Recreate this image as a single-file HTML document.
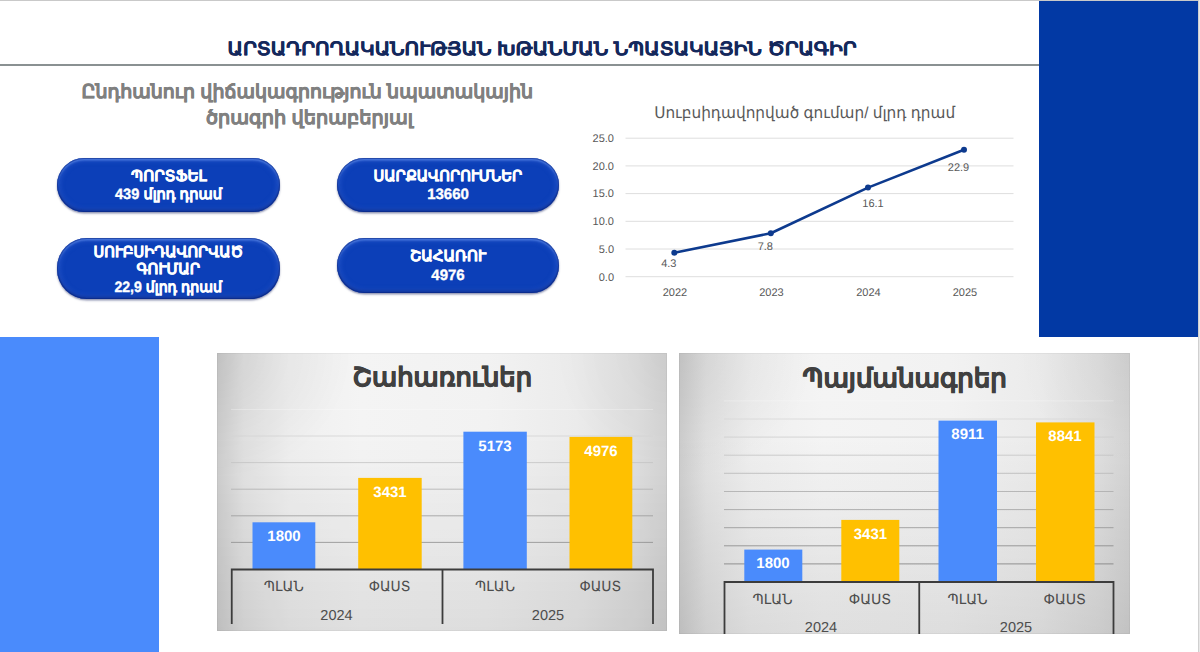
<!DOCTYPE html>
<html lang="hy">
<head>
<meta charset="utf-8">
<title>Արտադրողականության խթանման նպատակային ծրագիր</title>
<style>
*{box-sizing:border-box;margin:0;padding:0}
html,body{width:1200px;height:652px;overflow:hidden;background:#fff}
body{position:relative;font-family:"Liberation Sans",sans-serif;color:#595959}
.abs{position:absolute}
.topline{left:0;top:0;width:1200px;height:1px;background:#c9c9c9}
.rightline{left:1198px;top:0;width:2px;height:652px;background:linear-gradient(90deg,#d0d0d0 50%,#e8e8e8 50%)}
.darkrect{left:1039px;top:1px;width:159px;height:336px;background:#0239a4}
.lightrect{left:0;top:337px;width:159px;height:315px;background:#4a8bfc}
.titleline{left:0;top:64px;width:1039px;height:2px;background:#8a9192}
.btn{border-radius:30px;background:#0c3fb8;
 box-shadow:0 1.5px 2px rgba(30,40,100,.5), inset 0 0 0 1px rgba(6,34,125,.5), inset 0 2.5px 2px rgba(105,150,238,.55), inset 0 -2.5px 3px rgba(0,22,105,.45), inset 0 0 5px 2.5px rgba(62,108,218,.5)}
.panel{background:radial-gradient(ellipse 30% 45% at 0% 0%,rgba(0,0,0,.07),rgba(0,0,0,0) 100%),radial-gradient(ellipse 25% 40% at 100% 0%,rgba(0,0,0,.04),rgba(0,0,0,0) 100%),linear-gradient(180deg,rgba(0,0,0,0) 30%,rgba(0,0,0,.085) 100%),linear-gradient(90deg,#cfcfcf 0%,#e3e3e3 6%,#efefef 16%,#f4f4f4 32%,#f2f2f2 60%,#ebebeb 80%,#dfdfdf 93%,#d4d4d4 100%);box-shadow:inset 0 0 0 1px rgba(0,0,0,.04)}
svg{left:0;top:0}
svg text{font-family:"Liberation Sans",sans-serif;text-rendering:geometricPrecision}
.hy{paint-order:stroke fill}
</style>
</head>
<body>
<div class="abs topline"></div>
<div class="abs rightline"></div>
<div class="abs darkrect"></div>
<div class="abs lightrect"></div>
<div class="abs titleline"></div>

<div class="abs btn" style="left:57px;top:157.5px;width:222.5px;height:54px"></div>
<div class="abs btn" style="left:336.8px;top:157.5px;width:222px;height:54px"></div>
<div class="abs btn" style="left:57px;top:238.3px;width:223px;height:61.2px"></div>
<div class="abs btn" style="left:336.8px;top:238.3px;width:222px;height:54.5px"></div>

<div class="abs panel" style="left:217px;top:353px;width:450.4px;height:277.5px"></div>
<div class="abs panel" style="left:679.4px;top:353px;width:450.2px;height:281px"></div>

<svg class="abs" width="1200" height="652" viewBox="0 0 1200 652">
  <!-- headings -->
  <text class="hy" x="227.6" y="54.8" font-size="18.2" font-weight="bold" fill="#14285c" stroke="#14285c" stroke-width="0.3" textLength="629" lengthAdjust="spacingAndGlyphs">ԱՐՏԱԴՐՈՂԱԿԱՆՈՒԹՅԱՆ ԽԹԱՆՄԱՆ ՆՊԱՏԱԿԱՅԻՆ ԾՐԱԳԻՐ</text>
  <g font-size="19" font-weight="bold" fill="#808080" stroke="#808080" stroke-width="0.35">
    <text class="hy" x="81.6" y="97.8" textLength="451.4" lengthAdjust="spacingAndGlyphs">Ընդհանուր վիճակագրություն նպատակային</text>
    <text class="hy" x="206" y="123.6" textLength="207" lengthAdjust="spacingAndGlyphs">ծրագրի վերաբերյալ</text>
  </g>

  <!-- button labels -->
  <g font-size="15" font-weight="bold" fill="#fff" stroke="#fff" stroke-width="0.35">
    <text x="131" y="181.4" textLength="75.6" lengthAdjust="spacingAndGlyphs">ՊՈՐՏՖԵԼ</text>
    <text x="115" y="199.4" textLength="107" lengthAdjust="spacingAndGlyphs">439 մլրդ դրամ</text>
    <text x="373.5" y="181.4" textLength="148.6" lengthAdjust="spacingAndGlyphs">ՍԱՐՔԱՎՈՐՈՒՄՆԵՐ</text>
    <text x="448" y="199.4" text-anchor="middle">13660</text>
    <text x="93.6" y="256.5" textLength="149.4" lengthAdjust="spacingAndGlyphs">ՍՈՒԲՍԻԴԱՎՈՐՎԱԾ</text>
    <text x="136.4" y="273.6" textLength="63.6" lengthAdjust="spacingAndGlyphs">ԳՈՒՄԱՐ</text>
    <text x="114.4" y="291.6" textLength="107.6" lengthAdjust="spacingAndGlyphs">22,9 մլրդ դրամ</text>
    <text x="410" y="261.3" textLength="76" lengthAdjust="spacingAndGlyphs">ՇԱՀԱՌՈՒ</text>
    <text x="448" y="279.5" text-anchor="middle">4976</text>
  </g>

  <!-- line chart -->
  <text x="654.2" y="117.7" font-size="16" fill="#595959" textLength="301" lengthAdjust="spacingAndGlyphs">Սուբսիդավորված գումար/ մլրդ դրամ</text>
  <g stroke="#dedede" stroke-width="1">
    <line x1="625.5" x2="1013.5" y1="138.2" y2="138.2"/>
    <line x1="625.5" x2="1013.5" y1="165.9" y2="165.9"/>
    <line x1="625.5" x2="1013.5" y1="193.6" y2="193.6"/>
    <line x1="625.5" x2="1013.5" y1="221.3" y2="221.3"/>
    <line x1="625.5" x2="1013.5" y1="249" y2="249"/>
    <line x1="625.5" x2="1013.5" y1="276.7" y2="276.7"/>
  </g>
  <g font-size="11" fill="#595959" text-anchor="end">
    <text x="614" y="142">25.0</text>
    <text x="614" y="169.7">20.0</text>
    <text x="614" y="197.4">15.0</text>
    <text x="614" y="225.1">10.0</text>
    <text x="614" y="252.8">5.0</text>
    <text x="614" y="280.5">0.0</text>
  </g>
  <g font-size="11" fill="#595959" text-anchor="middle">
    <text x="675" y="296.2">2022</text>
    <text x="771.5" y="296.2">2023</text>
    <text x="868.5" y="296.2">2024</text>
    <text x="965" y="296.2">2025</text>
    <text x="668.8" y="266.8">4.3</text>
    <text x="765.3" y="250.3">7.8</text>
    <text x="873" y="207">16.1</text>
    <text x="958.5" y="171.2">22.9</text>
  </g>
  <polyline points="674.3,252.8 770.8,233.2 868,187.6 964,149.8" fill="none" stroke="#0d3a8e" stroke-width="2.6" stroke-linejoin="round" stroke-linecap="round"/>
  <g fill="#0d3a8e">
    <circle cx="674.3" cy="252.8" r="3"/><circle cx="770.8" cy="233.2" r="3"/><circle cx="868" cy="187.6" r="3"/><circle cx="964" cy="149.8" r="3"/>
  </g>

  <!-- left bar chart -->
  <text class="hy" x="352.5" y="386.3" font-size="26" font-weight="bold" fill="#404040" stroke="#404040" stroke-width="0.6" textLength="179.6" lengthAdjust="spacingAndGlyphs">Շահառուներ</text>
  <g stroke-width="1" opacity="0.8">
    <line x1="231" x2="653" y1="409.4" y2="409.4" stroke="#fff" stroke-opacity=".4"/>
    <line x1="231" x2="653" y1="436" y2="436" stroke="#d4d4d4"/>
    <line x1="231" x2="653" y1="462.6" y2="462.6" stroke="#c4c4c4"/>
    <line x1="231" x2="653" y1="489.2" y2="489.2" stroke="#b0b0b0"/>
    <line x1="231" x2="653" y1="515.8" y2="515.8" stroke="#9c9c9c"/>
    <line x1="231" x2="653" y1="542.4" y2="542.4" stroke="#8e8e8e"/>
  </g>
  <rect x="252.5" y="522.3" width="62.8" height="47.5" fill="#4a8bfc"/>
  <rect x="358.2" y="477.9" width="63.5" height="91.8" fill="#ffc000"/>
  <rect x="463.4" y="431.7" width="63.4" height="138" fill="#4a8bfc"/>
  <rect x="569.5" y="436.9" width="62.8" height="132.8" fill="#ffc000"/>
  <g font-size="15" font-weight="bold" fill="#fff" text-anchor="middle">
    <text x="284" y="541">1800</text>
    <text x="390" y="497">3431</text>
    <text x="495" y="450.5">5173</text>
    <text x="601" y="455.5">4976</text>
  </g>
  <path d="M231.75 624V569.5H653V624M442.5 569.5V624" fill="none" stroke="#3c3c3c" stroke-width="1.8"/>
  <g font-size="14" fill="#4d4d4d">
    <text x="263.75" y="591.3" textLength="40" lengthAdjust="spacingAndGlyphs">ՊԼԱՆ</text>
    <text x="368.75" y="591.3" textLength="41.75" lengthAdjust="spacingAndGlyphs">ՓԱՍՏ</text>
    <text x="475" y="591.3" textLength="40" lengthAdjust="spacingAndGlyphs">ՊԼԱՆ</text>
    <text x="579.5" y="591.3" textLength="41.75" lengthAdjust="spacingAndGlyphs">ՓԱՍՏ</text>
  </g>
  <g font-size="14.5" fill="#4d4d4d" text-anchor="middle">
    <text x="336.5" y="619.5">2024</text>
    <text x="548" y="619.5">2025</text>
  </g>

  <!-- right bar chart -->
  <text class="hy" x="802.5" y="386.5" font-size="26" font-weight="bold" fill="#404040" stroke="#404040" stroke-width="0.6" textLength="204.4" lengthAdjust="spacingAndGlyphs">Պայմանագրեր</text>
  <g stroke-width="1" opacity="0.8">
    <line x1="724" x2="1113.5" y1="400.9" y2="400.9" stroke="#fff" stroke-opacity=".4"/>
    <line x1="724" x2="1113.5" y1="419" y2="419" stroke="#d8d8d8"/>
    <line x1="724" x2="1113.5" y1="437.1" y2="437.1" stroke="#cecece"/>
    <line x1="724" x2="1113.5" y1="455.2" y2="455.2" stroke="#c4c4c4"/>
    <line x1="724" x2="1113.5" y1="473.3" y2="473.3" stroke="#b8b8b8"/>
    <line x1="724" x2="1113.5" y1="491.5" y2="491.5" stroke="#acacac"/>
    <line x1="724" x2="1113.5" y1="509.6" y2="509.6" stroke="#a0a0a0"/>
    <line x1="724" x2="1113.5" y1="527.7" y2="527.7" stroke="#949494"/>
    <line x1="724" x2="1113.5" y1="545.8" y2="545.8" stroke="#888888"/>
    <line x1="724" x2="1113.5" y1="563.9" y2="563.9" stroke="#7e7e7e"/>
  </g>
  <rect x="744.3" y="549.6" width="58" height="32.6" fill="#4a8bfc"/>
  <rect x="841.3" y="519.9" width="58" height="62.1" fill="#ffc000"/>
  <rect x="938.5" y="420.6" width="58.5" height="161.4" fill="#4a8bfc"/>
  <rect x="1036" y="422.4" width="58.5" height="159.6" fill="#ffc000"/>
  <g font-size="15" font-weight="bold" fill="#fff" text-anchor="middle">
    <text x="773" y="568">1800</text>
    <text x="870.4" y="538.5">3431</text>
    <text x="967.6" y="439.2">8911</text>
    <text x="1065" y="440.8">8841</text>
  </g>
  <path d="M724.5 634V582H1113.5V634M919.25 582V634" fill="none" stroke="#3c3c3c" stroke-width="1.8"/>
  <g font-size="14" fill="#4d4d4d">
    <text x="752.5" y="604.3" textLength="40" lengthAdjust="spacingAndGlyphs">ՊԼԱՆ</text>
    <text x="848.75" y="604.3" textLength="42.5" lengthAdjust="spacingAndGlyphs">ՓԱՍՏ</text>
    <text x="947.5" y="604.3" textLength="40" lengthAdjust="spacingAndGlyphs">ՊԼԱՆ</text>
    <text x="1043.5" y="604.3" textLength="42.5" lengthAdjust="spacingAndGlyphs">ՓԱՍՏ</text>
  </g>
  <g font-size="14.5" fill="#4d4d4d" text-anchor="middle">
    <text x="821" y="632">2024</text>
    <text x="1016" y="632">2025</text>
  </g>
</svg>
</body>
</html>
